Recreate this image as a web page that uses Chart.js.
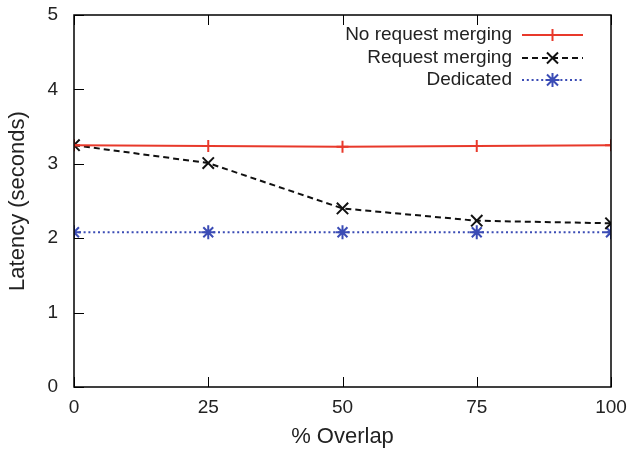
<!DOCTYPE html>
<html>
<head>
<meta charset="utf-8">
<script src="https://cdn.jsdelivr.net/npm/chart.js@4"></script>
<style>
  html, body { margin: 0; padding: 0; background: #fff; }
  #wrap { width: 629px; height: 452px; }
</style>
</head>
<body>
<div id="wrap"><canvas id="c" width="629" height="452"></canvas></div>
<script>
// Overlap percentages on the x axis
const overlap = [0, 25, 50, 75, 100];
// Latency in seconds for each configuration
const noMerging = [3.25, 3.24, 3.23, 3.24, 3.25];
const merging = [3.25, 3.01, 2.40, 2.235, 2.20];
const dedicated = [2.08, 2.08, 2.08, 2.08, 2.08];
// Axis tick values
const xTicks = [0, 25, 50, 75, 100];
const yTicks = [0, 1, 2, 3, 4, 5];

const FONT = '"Liberation Sans", Arial, Helvetica, sans-serif';
const RED = '#e8392b';
const BLACK = '#111111';
const BLUE = '#3b4cb5';

const series = [
  { label: 'No request merging', data: noMerging, color: RED, dash: [], style: 'plus', width: 2, radius: 6 },
  { label: 'Request merging', data: merging, color: BLACK, dash: [6, 4], style: 'crossRot', width: 2, radius: 8 },
  { label: 'Dedicated', data: dedicated, color: BLUE, dash: [2, 2.8], style: 'star', width: 2, radius: 7 }
];

// "+" marker drawn as an image so the vertical stroke stands out on the solid line
function plusMarker(color) {
  const c = document.createElement('canvas');
  c.width = 14; c.height = 14;
  const g = c.getContext('2d');
  g.strokeStyle = color; g.lineWidth = 2;
  g.beginPath(); g.moveTo(7, 1); g.lineTo(7, 13); g.moveTo(1, 7); g.lineTo(13, 7); g.stroke();
  return c;
}

// Box, inward ticks and in-plot legend
const framePlugin = {
  id: 'frame',
  afterDraw(chart) {
    const { ctx, chartArea: a, scales } = chart;
    const tl = 10;
    ctx.save();
    ctx.strokeStyle = '#000';
    ctx.lineWidth = 1.5;
    ctx.setLineDash([]);
    ctx.strokeRect(a.left, a.top, a.right - a.left, a.bottom - a.top);
    ctx.lineWidth = 1;
    ctx.beginPath();
    xTicks.forEach(v => {
      const x = Math.round(scales.x.getPixelForValue(v)) + 0.5;
      ctx.moveTo(x, a.bottom); ctx.lineTo(x, a.bottom - tl);
      ctx.moveTo(x, a.top); ctx.lineTo(x, a.top + tl);
    });
    yTicks.forEach(v => {
      const y = Math.round(scales.y.getPixelForValue(v)) + 0.5;
      ctx.moveTo(a.left, y); ctx.lineTo(a.left + tl, y);
    });
    ctx.stroke();

    // legend: right-aligned labels followed by a line sample with a marker
    const textRight = a.right - 99;
    const sx0 = a.right - 89, sx1 = a.right - 28, mx = (sx0 + sx1) / 2;
    const rows = [35, 58, 80];
    ctx.font = '19px ' + FONT;
    ctx.textAlign = 'right';
    ctx.textBaseline = 'middle';
    series.forEach((s, i) => {
      const y = rows[i];
      ctx.fillStyle = '#222';
      ctx.fillText(s.label, textRight, y);
      ctx.strokeStyle = s.color;
      ctx.lineWidth = s.width;
      ctx.setLineDash(s.dash);
      ctx.beginPath(); ctx.moveTo(sx0, y); ctx.lineTo(sx1, y); ctx.stroke();
      ctx.setLineDash([]);
      ctx.lineWidth = 2;
      ctx.beginPath();
      if (i === 0) {
        ctx.moveTo(mx, y - 6); ctx.lineTo(mx, y + 6);
      } else {
        ctx.moveTo(mx - 5.5, y - 5.5); ctx.lineTo(mx + 5.5, y + 5.5);
        ctx.moveTo(mx - 5.5, y + 5.5); ctx.lineTo(mx + 5.5, y - 5.5);
        if (i === 2) { ctx.moveTo(mx, y - 7); ctx.lineTo(mx, y + 7); ctx.moveTo(mx - 7, y); ctx.lineTo(mx + 7, y); }
      }
      ctx.stroke();
    });
    ctx.restore();
  }
};

new Chart(document.getElementById('c'), {
  type: 'line',
  data: {
    datasets: series.map(s => ({
      label: s.label,
      data: overlap.map((x, i) => ({ x, y: s.data[i] })),
      borderColor: s.color,
      backgroundColor: s.color,
      borderWidth: s.width,
      borderDash: s.dash,
      pointStyle: s.style === 'plus' ? plusMarker(s.color) : s.style,
      pointRadius: s.radius,
      pointBorderWidth: 2,
      pointBorderColor: s.color,
      tension: 0,
      fill: false
    }))
  },
  plugins: [framePlugin],
  options: {
    responsive: false,
    animation: false,
    devicePixelRatio: 1,
    layout: { padding: { top: 15, right: 18, left: 0, bottom: 0 } },
    plugins: { legend: { display: false }, tooltip: { enabled: false } },
    scales: {
      x: {
        type: 'linear',
        min: 0, max: 100,
        afterBuildTicks(scale) { scale.ticks = xTicks.map(v => ({ value: v })); },
        afterFit(scale) { scale.height = 65; scale.paddingLeft = 0; scale.paddingRight = 0; },
        grid: { display: false, drawTicks: false },
        border: { display: false },
        ticks: { color: '#222', padding: 9, maxRotation: 0, font: { family: FONT, size: 19 } },
        title: { display: true, text: '% Overlap', color: '#222', font: { family: FONT, size: 22 }, padding: { top: 0, bottom: 2 } }
      },
      y: {
        type: 'linear',
        min: 0, max: 5,
        afterBuildTicks(scale) { scale.ticks = yTicks.map(v => ({ value: v })); },
        afterFit(scale) { scale.width = 74; scale.paddingTop = 0; scale.paddingBottom = 0; },
        grid: { display: false, drawTicks: false },
        border: { display: false },
        ticks: { color: '#222', padding: 16, font: { family: FONT, size: 19 } },
        title: { display: true, text: 'Latency (seconds)', color: '#222', font: { family: FONT, size: 22 }, padding: { top: 5, bottom: 0 } }
      }
    }
  }
});
</script>
</body>
</html>
